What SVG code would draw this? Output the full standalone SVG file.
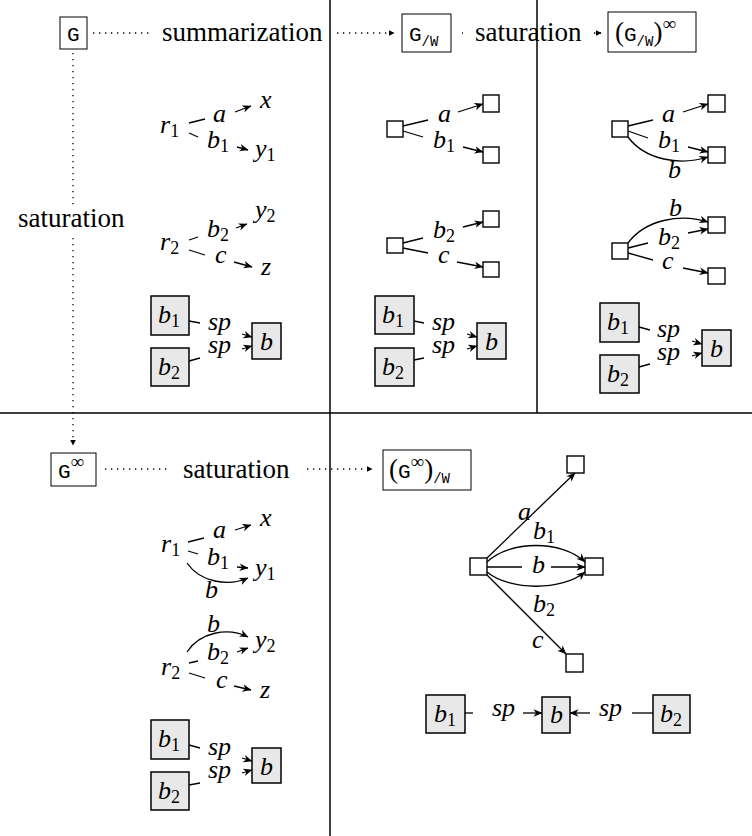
<svg xmlns="http://www.w3.org/2000/svg" width="752" height="836" viewBox="0 0 752 836">
<defs>
<marker id="ah" viewBox="0 0 10 10" refX="9.5" refY="5" markerWidth="9" markerHeight="9" markerUnits="userSpaceOnUse" orient="auto"><path d="M0,0.8 L10,5 L0,9.2 L3,5 z" fill="#000"/></marker>
<marker id="dh" viewBox="0 0 10 10" refX="9" refY="5" markerWidth="6" markerHeight="6" markerUnits="userSpaceOnUse" orient="auto"><path d="M0,0 L10,5 L0,10 z" fill="#000"/></marker>
</defs>
<style>
.m{font-family:'Liberation Serif',serif;font-style:italic;font-size:26px;fill:#000}
.s{font-style:normal;font-size:18px}
.t{font-family:'Liberation Serif',serif;font-style:normal;font-size:27px;fill:#000}
.tt{font-family:'Liberation Mono',monospace;font-style:normal;font-size:21px;fill:#000}
.ts{font-family:'Liberation Mono',monospace;font-size:14px}
.sup{font-family:'Liberation Serif',serif;font-size:19px}
.e{stroke:#000;stroke-width:1.3;fill:none}
.a{marker-end:url(#ah)}
.d{stroke:#000;stroke-width:1.3;fill:none;stroke-dasharray:1.3 4.7}
.da{marker-end:url(#dh)}
.tb{fill:#fff;stroke:#000;stroke-width:1}
.gb{fill:#e8e8e8;stroke:#000;stroke-width:1.5}
.sq{fill:#fff;stroke:#000;stroke-width:1.4}
.div{stroke:#000;stroke-width:1.5}
</style>
<rect x="0" y="0" width="752" height="836" fill="#fff"/>
<g id="dividers">
<line class="div" x1="330" y1="0" x2="330" y2="836"/>
<line class="div" x1="537" y1="0" x2="537" y2="413"/>
<line class="div" x1="0" y1="413" x2="752" y2="413"/>
</g>

<g id="title-G"><rect class="tb" x="60" y="17" width="27" height="32"/><text class="tt" x="67" y="41">G</text></g>
<g id="title-GW"><rect class="tb" x="402" y="14" width="49" height="38"/><text class="tt" x="409" y="41">G<tspan class="ts" dy="5">/W</tspan></text></g>
<g id="title-GWinf"><rect class="tb" x="608" y="12" width="88" height="40"/><text class="t" y="41"><tspan x="615">(</tspan><tspan class="tt">G</tspan><tspan class="ts" dy="5">/W</tspan><tspan dy="-5">)</tspan><tspan class="sup" dy="-11">∞</tspan></text></g>
<g id="title-Ginf"><rect class="tb" x="51" y="453" width="45" height="33"/><text class="t" y="478"><tspan class="tt" x="58">G</tspan><tspan class="sup" dy="-10">∞</tspan></text></g>
<g id="title-GinfW"><rect class="tb" x="383" y="450" width="88" height="40"/><text class="t" y="478"><tspan x="389">(</tspan><tspan class="tt">G</tspan><tspan class="sup" dy="-10">∞</tspan><tspan dy="10">)</tspan><tspan class="ts" dy="5">/W</tspan></text></g>

<g id="top-labels">
<text class="t" x="162" y="41">summarization</text>
<text class="t" x="475" y="41">saturation</text>
<text class="t" x="18" y="227">saturation</text>
<text class="t" x="183" y="478">saturation</text>
</g>

<g id="dotted-connectors">
<line class="d" x1="93" y1="33" x2="152" y2="33"/>
<line class="d da" x1="337" y1="33" x2="394" y2="33"/>
<line class="d" x1="462" y1="33" x2="463" y2="33"/>
<line class="d da" x1="594" y1="33" x2="601" y2="33"/>
<line class="d" x1="73" y1="53" x2="73" y2="207"/>
<line class="d da" x1="73" y1="238" x2="73" y2="445"/>
<line class="d" x1="105" y1="469" x2="170" y2="469"/>
<line class="d da" x1="307" y1="469" x2="372" y2="469"/>
</g>

<!-- Panel 1: G -->
<g id="p1-r1"><text class="m" x="160" y="133">r<tspan class="s" dy="4">1</tspan></text></g>
<g id="p1-x"><text class="m" x="260" y="108">x</text></g>
<g id="p1-y1"><text class="m" x="255" y="157">y<tspan class="s" dy="4">1</tspan></text></g>
<g id="p1-r2"><text class="m" x="160" y="250">r<tspan class="s" dy="4">2</tspan></text></g>
<g id="p1-y2"><text class="m" x="255" y="218">y<tspan class="s" dy="4">2</tspan></text></g>
<g id="p1-z"><text class="m" x="261" y="275">z</text></g>
<g id="p1-b1"><rect class="gb" x="151" y="296" width="38" height="39"/><text class="m" x="158" y="323">b<tspan class="s" dy="4">1</tspan></text></g>
<g id="p1-b2"><rect class="gb" x="151" y="348" width="38" height="38"/><text class="m" x="158" y="375">b<tspan class="s" dy="4">2</tspan></text></g>
<g id="p1-b"><rect class="gb" x="252" y="323" width="29" height="36"/><text class="m" x="260" y="350">b</text></g>

<!-- Panel 2: G/W -->
<g id="p2-s1"><rect class="sq" x="387" y="121" width="16" height="16"/></g>
<g id="p2-t1"><rect class="sq" x="483" y="95" width="16" height="17"/></g>
<g id="p2-t2"><rect class="sq" x="483" y="147" width="16" height="16"/></g>
<g id="p2-s2"><rect class="sq" x="387" y="238" width="16" height="15"/></g>
<g id="p2-t3"><rect class="sq" x="483" y="211" width="16" height="16"/></g>
<g id="p2-t4"><rect class="sq" x="483" y="262" width="16" height="15"/></g>
<g id="p2-b1"><rect class="gb" x="375" y="296" width="39" height="38"/><text class="m" x="382" y="323">b<tspan class="s" dy="4">1</tspan></text></g>
<g id="p2-b2"><rect class="gb" x="375" y="348" width="39" height="38"/><text class="m" x="382" y="375">b<tspan class="s" dy="4">2</tspan></text></g>
<g id="p2-b"><rect class="gb" x="477" y="323" width="29" height="36"/><text class="m" x="485" y="350">b</text></g>

<!-- Panel 3: (G/W)inf -->
<g id="p3-s1"><rect class="sq" x="612" y="121" width="16" height="16"/></g>
<g id="p3-t1"><rect class="sq" x="708" y="95" width="17" height="17"/></g>
<g id="p3-t2"><rect class="sq" x="708" y="147" width="17" height="16"/></g>
<g id="p3-s2"><rect class="sq" x="612" y="243" width="16" height="16"/></g>
<g id="p3-t3"><rect class="sq" x="708" y="217" width="17" height="16"/></g>
<g id="p3-t4"><rect class="sq" x="708" y="268" width="17" height="16"/></g>
<g id="p3-b1"><rect class="gb" x="600" y="303" width="39" height="39"/><text class="m" x="607" y="330">b<tspan class="s" dy="4">1</tspan></text></g>
<g id="p3-b2"><rect class="gb" x="600" y="355" width="39" height="38"/><text class="m" x="607" y="382">b<tspan class="s" dy="4">2</tspan></text></g>
<g id="p3-b"><rect class="gb" x="702" y="330" width="29" height="36"/><text class="m" x="710" y="357">b</text></g>

<!-- Panel 4: Ginf -->
<g id="p4-r1"><text class="m" x="161" y="552">r<tspan class="s" dy="4">1</tspan></text></g>
<g id="p4-x"><text class="m" x="260" y="526">x</text></g>
<g id="p4-y1"><text class="m" x="255" y="576">y<tspan class="s" dy="4">1</tspan></text></g>
<g id="p4-r2"><text class="m" x="161" y="675">r<tspan class="s" dy="4">2</tspan></text></g>
<g id="p4-y2"><text class="m" x="255" y="648">y<tspan class="s" dy="4">2</tspan></text></g>
<g id="p4-z"><text class="m" x="260" y="698">z</text></g>
<g id="p4-b1"><rect class="gb" x="151" y="720" width="38" height="39"/><text class="m" x="158" y="747">b<tspan class="s" dy="4">1</tspan></text></g>
<g id="p4-b2"><rect class="gb" x="151" y="772" width="38" height="38"/><text class="m" x="158" y="799">b<tspan class="s" dy="4">2</tspan></text></g>
<g id="p4-b"><rect class="gb" x="252" y="748" width="29" height="35"/><text class="m" x="260" y="775">b</text></g>

<!-- Panel 5: (Ginf)/W -->
<g id="p5-s"><rect class="sq" x="470" y="558" width="17" height="17"/></g>
<g id="p5-ta"><rect class="sq" x="567" y="456" width="17" height="17"/></g>
<g id="p5-tb"><rect class="sq" x="585" y="558" width="18" height="17"/></g>
<g id="p5-tc"><rect class="sq" x="566" y="654" width="17" height="18"/></g>
<g id="p5-b1"><rect class="gb" x="426" y="695" width="39" height="38"/><text class="m" x="434" y="722">b<tspan class="s" dy="4">1</tspan></text></g>
<g id="p5-b"><rect class="gb" x="542" y="697" width="28" height="36"/><text class="m" x="550" y="723">b</text></g>
<g id="p5-b2"><rect class="gb" x="653" y="695" width="37" height="38"/><text class="m" x="660" y="722">b<tspan class="s" dy="4">2</tspan></text></g>

<g id="connectors">
<!-- panel 1 -->
<line class="e" x1="189" y1="123" x2="205" y2="119"/>
<line class="e a" x1="235" y1="112" x2="251" y2="106"/>
<line class="e" x1="189" y1="133" x2="198" y2="137"/>
<line class="e a" x1="237" y1="147" x2="248" y2="150"/>
<line class="e" x1="189" y1="240" x2="198" y2="237"/>
<line class="e a" x1="236" y1="228" x2="247" y2="224"/>
<line class="e" x1="189" y1="250" x2="205" y2="255"/>
<line class="e a" x1="234" y1="262" x2="252" y2="267"/>
<line class="e" x1="189" y1="321" x2="200" y2="323"/>
<line class="e a" x1="242" y1="334" x2="252" y2="337"/>
<line class="e" x1="189" y1="361" x2="200" y2="358"/>
<line class="e a" x1="242" y1="349" x2="252" y2="346"/>
<!-- panel 2 -->
<line class="e" x1="403" y1="126" x2="428" y2="120"/>
<line class="e a" x1="458" y1="112" x2="483" y2="104"/>
<line class="e" x1="403" y1="131" x2="423" y2="137"/>
<line class="e a" x1="463" y1="147" x2="483" y2="152"/>
<line class="e" x1="403" y1="243" x2="423" y2="238"/>
<line class="e a" x1="463" y1="227" x2="483" y2="222"/>
<line class="e" x1="403" y1="248" x2="428" y2="253"/>
<line class="e a" x1="457" y1="262" x2="483" y2="267"/>
<line class="e" x1="414" y1="321" x2="424" y2="323"/>
<line class="e a" x1="467" y1="334" x2="477" y2="337"/>
<line class="e" x1="414" y1="360" x2="424" y2="358"/>
<line class="e a" x1="467" y1="349" x2="477" y2="346"/>
<!-- panel 3 -->
<line class="e" x1="628" y1="126" x2="653" y2="120"/>
<line class="e a" x1="683" y1="112" x2="708" y2="104"/>
<line class="e" x1="628" y1="131" x2="648" y2="138"/>
<line class="e a" x1="688" y1="147" x2="708" y2="152"/>
<path class="e a" d="M628,137 C645,160 680,166 708,157"/>
<path class="e a" d="M628,243 C645,220 680,213 708,222"/>
<line class="e" x1="628" y1="248" x2="648" y2="243"/>
<line class="e a" x1="688" y1="233" x2="708" y2="229"/>
<line class="e" x1="628" y1="253" x2="653" y2="260"/>
<line class="e a" x1="683" y1="268" x2="708" y2="273"/>
<line class="e" x1="639" y1="327" x2="650" y2="330"/>
<line class="e a" x1="692" y1="341" x2="702" y2="344"/>
<line class="e" x1="639" y1="367" x2="650" y2="364"/>
<line class="e a" x1="692" y1="356" x2="702" y2="353"/>
<!-- panel 4 -->
<line class="e" x1="188" y1="542" x2="204" y2="538"/>
<line class="e a" x1="235" y1="530" x2="251" y2="525"/>
<line class="e" x1="188" y1="551" x2="198" y2="554"/>
<line class="e a" x1="237" y1="567" x2="248" y2="568"/>
<path class="e a" d="M187,563 C200,582 228,587 248,578"/>
<path class="e a" d="M187,652 C200,632 228,627 248,637"/>
<line class="e" x1="189" y1="663" x2="198" y2="661"/>
<line class="e a" x1="237" y1="652" x2="248" y2="648"/>
<line class="e" x1="189" y1="673" x2="205" y2="678"/>
<line class="e a" x1="234" y1="686" x2="251" y2="690"/>
<line class="e" x1="189" y1="745" x2="200" y2="748"/>
<line class="e a" x1="242" y1="758" x2="252" y2="761"/>
<line class="e" x1="189" y1="785" x2="200" y2="783"/>
<line class="e a" x1="242" y1="773" x2="252" y2="770"/>
<!-- panel 5 -->
<line class="e a" x1="487" y1="558" x2="575" y2="473"/>
<path class="e a" d="M487,562 C510,540 562,540 585,562"/>
<line class="e" x1="487" y1="567" x2="522" y2="567"/>
<line class="e a" x1="551" y1="567" x2="585" y2="567"/>
<path class="e a" d="M487,572 C510,591 562,591 585,572"/>
<line class="e a" x1="487" y1="575" x2="566" y2="654"/>
<line class="e" x1="465" y1="713" x2="473" y2="713"/>
<line class="e a" x1="523" y1="713" x2="542" y2="713"/>
<line class="e a" x1="590" y1="713" x2="570" y2="713"/>
<line class="e" x1="632" y1="713" x2="653" y2="713"/>
</g>

<g id="edge-labels">
<text class="m" x="213" y="122">a</text>
<text class="m" x="207" y="148">b<tspan class="s" dy="4">1</tspan></text>
<text class="m" x="207" y="237">b<tspan class="s" dy="4">2</tspan></text>
<text class="m" x="215" y="263">c</text>
<text class="m" x="208" y="330">sp</text>
<text class="m" x="208" y="353">sp</text>
<text class="m" x="438" y="122">a</text>
<text class="m" x="433" y="148">b<tspan class="s" dy="4">1</tspan></text>
<text class="m" x="433" y="238">b<tspan class="s" dy="4">2</tspan></text>
<text class="m" x="438" y="263">c</text>
<text class="m" x="432" y="330">sp</text>
<text class="m" x="432" y="353">sp</text>
<text class="m" x="662" y="122">a</text>
<text class="m" x="658" y="148">b<tspan class="s" dy="4">1</tspan></text>
<text class="m" x="668" y="178">b</text>
<text class="m" x="669" y="216">b</text>
<text class="m" x="658" y="245">b<tspan class="s" dy="4">2</tspan></text>
<text class="m" x="662" y="269">c</text>
<text class="m" x="657" y="337">sp</text>
<text class="m" x="657" y="360">sp</text>
<text class="m" x="213" y="538">a</text>
<text class="m" x="207" y="565">b<tspan class="s" dy="4">1</tspan></text>
<text class="m" x="205" y="598">b</text>
<text class="m" x="207" y="632">b</text>
<text class="m" x="207" y="660">b<tspan class="s" dy="4">2</tspan></text>
<text class="m" x="216" y="688">c</text>
<text class="m" x="208" y="755">sp</text>
<text class="m" x="208" y="778">sp</text>
<text class="m" x="518" y="520">a</text>
<text class="m" x="533" y="539">b<tspan class="s" dy="4">1</tspan></text>
<text class="m" x="532" y="573">b</text>
<text class="m" x="533" y="612">b<tspan class="s" dy="4">2</tspan></text>
<text class="m" x="532" y="648">c</text>
<text class="m" x="492" y="716">sp</text>
<text class="m" x="599" y="716">sp</text>
</g>
</svg>
